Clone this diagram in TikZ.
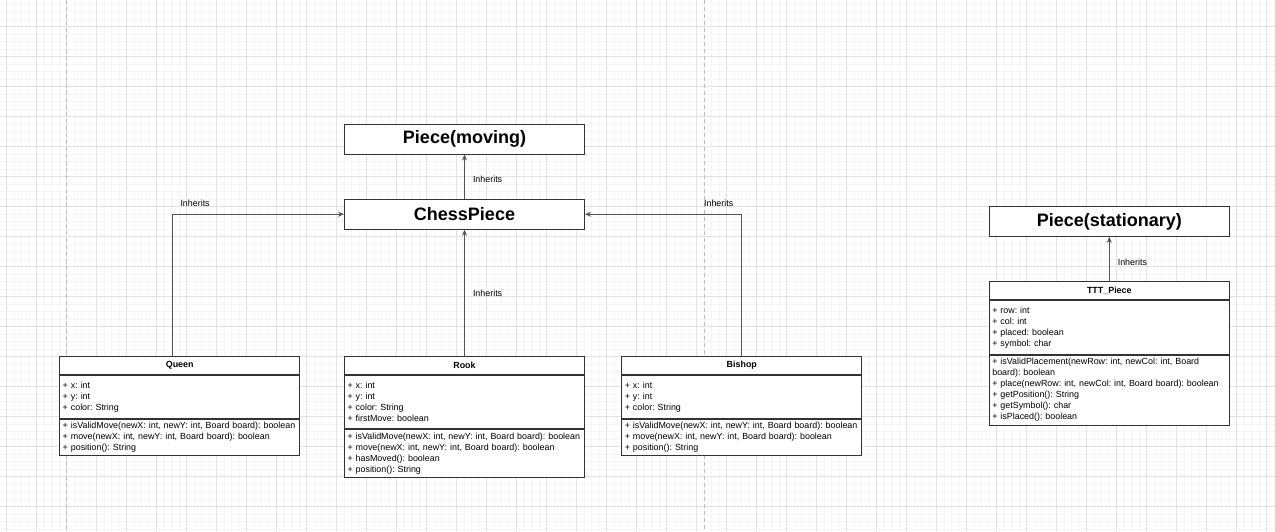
\documentclass[tikz,border=0pt]{standalone}
\usepackage{fontspec}
\setmainfont{Liberation Sans}
\usetikzlibrary{arrows.meta}
\definecolor{boxline}{HTML}{333333}
\definecolor{edgeline}{HTML}{555555}
\definecolor{minorgrid}{HTML}{F5F5F5}
\definecolor{majorgrid}{HTML}{E2E2E2}
\definecolor{pagebreak}{HTML}{BDBDBD}
\begin{document}
\begin{tikzpicture}[x=1pt,y=-1pt,
  title/.style={draw=boxline,fill=white,line width=0.9pt,minimum width=240pt,minimum height=30pt,inner sep=0pt,font=\fontsize{18}{20}\selectfont\bfseries},
  classname/.style={draw=boxline,fill=white,line width=0.9pt,minimum width=240pt,minimum height=17.6pt,inner sep=0pt,font=\fontsize{8.9}{11}\selectfont\bfseries},
  members/.style={draw=boxline,fill=white,line width=0.9pt,anchor=north,text width=234pt,inner xsep=3pt,inner ysep=0pt,align=left,font=\fontsize{8.9}{11}\selectfont\frenchspacing},
  inherit/.style={draw=edgeline,line width=1pt,-{Stealth[length=6pt,width=5pt]}},
  lbl/.style={inner sep=0pt,font=\fontsize{8.9}{11}\selectfont}]
\useasboundingbox (0,0) rectangle (1275,531);
\fill[white] (0,0) rectangle (1275,531);
% grid of the canvas
\foreach \i in {0,...,170}
\draw[minorgrid,line width=0.5pt] ({-0.8+7.5*\i},0) -- ++(0,531);
\foreach \i in {0,...,71}
\draw[minorgrid,line width=0.5pt] (0,{4+7.5*\i}) -- ++(1275,0);
\foreach \i in {0,...,42}
\draw[majorgrid,line width=0.8pt] ({6.7+30*\i},0) -- ++(0,531);
\foreach \i in {0,...,17}
\draw[majorgrid,line width=0.8pt] (0,{26.5+30*\i}) -- ++(1275,0);
\foreach \x in {66.7,704.3}
\draw[pagebreak,line width=0.8pt,dash pattern=on 4pt off 3pt] (\x,0) -- (\x,531);
% parent classes
\node[title] (moving) at (464.5,139) {Piece(moving)};
\node[title] (chess) at (464.5,214.2) {ChessPiece};
\node[title] (stationary) at (1109.3,221.4) {Piece(stationary)};
% Queen
\node[classname] (queen) at (179.7,365.5) {Queen};
\node[members,minimum height=43pt] (queenattr) at (queen.south) {+ x: int\\+ y: int\\+ color: String};
\node[members,minimum height=36.7pt] (queenops) at (queenattr.south) {+ isValidMove(newX: int, newY: int, Board board): boolean\\+ move(newX: int, newY: int, Board board): boolean\\+ position(): String};
% Rook
\node[classname] (rook) at (464.5,365.5) {Rook};
\node[members,minimum height=53.4pt] (rookattr) at (rook.south) {+ x: int\\+ y: int\\+ color: String\\+ firstMove: boolean};
\node[members,minimum height=48.3pt] (rookops) at (rookattr.south) {+ isValidMove(newX: int, newY: int, Board board): boolean\\+ move(newX: int, newY: int, Board board): boolean\\+ hasMoved(): boolean\\+ position(): String};
% Bishop
\node[classname] (bishop) at (741.8,365.5) {Bishop};
\node[members,minimum height=43pt] (bishopattr) at (bishop.south) {+ x: int\\+ y: int\\+ color: String};
\node[members,minimum height=36.7pt] (bishopops) at (bishopattr.south) {+ isValidMove(newX: int, newY: int, Board board): boolean\\+ move(newX: int, newY: int, Board board): boolean\\+ position(): String};
% TTT_Piece
\node[classname] (ttt) at (1109.3,290.5) {TTT\_Piece};
\node[members,minimum height=54pt] (tttattr) at (ttt.south) {+ row: int\\+ col: int\\+ placed: boolean\\+ symbol: char};
\node[members,minimum height=70pt] (tttops) at (tttattr.south) {+ isValidPlacement(newRow: int, newCol: int, Board\\board): boolean\\+ place(newRow: int, newCol: int, Board board): boolean\\+ getPosition(): String\\+ getSymbol(): char\\+ isPlaced(): boolean};
% inheritance
\draw[inherit] (chess.north) -- node[lbl,pos=0.43,anchor=west,xshift=8pt] {Inherits} (moving.south);
\draw[inherit] (rook.north) -- node[lbl,anchor=west,xshift=8pt] {Inherits} (chess.south);
\draw[inherit] ([xshift=-7.7pt]queen.north) |- node[lbl,pos=0.5,anchor=west,xshift=8pt,yshift=11pt] {Inherits} (chess.west);
\draw[inherit] (bishop.north) |- node[lbl,pos=0.5,anchor=east,xshift=-8pt,yshift=11pt] {Inherits} (chess.east);
\draw[inherit] (ttt.north) -- node[lbl,pos=0.42,anchor=west,xshift=8pt] {Inherits} (stationary.south);
\end{tikzpicture}
\end{document}
